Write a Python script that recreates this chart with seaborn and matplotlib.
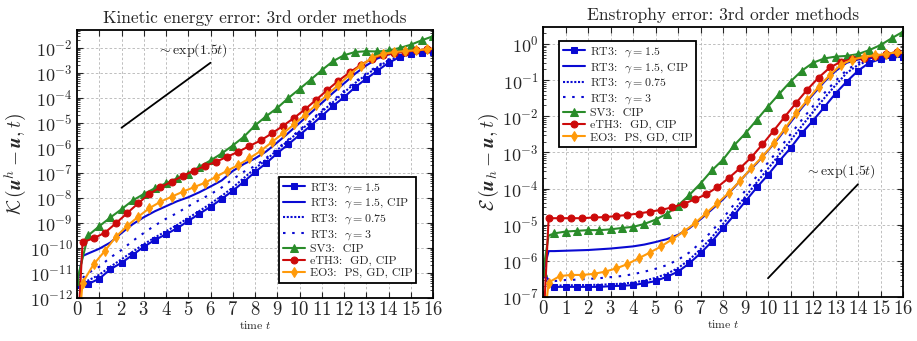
import numpy as np
import pandas as pd
import matplotlib
matplotlib.use("Agg")
import matplotlib.pyplot as plt
import seaborn as sns
from matplotlib.ticker import LogLocator, LogFormatterMathtext, MultipleLocator, NullFormatter

# ---------------- data (log10 of the error values) ----------------
t_half = [i * 0.5 for i in range(33)]                       # 0, 0.5, ..., 16
t_off = [0.0] + [0.25 + i * 0.5 for i in range(32)] + [16.0]  # 0, 0.25, 0.75, ..., 15.75, 16
t_cip = [0.0, 0.25] + [i * 0.5 for i in range(1, 33)]       # 0, 0.25, 0.5, 1, ..., 16

# Kinetic energy error (left)
K_rt3 = [-11.48, -11.44, -11.23, -10.85, -10.59, -10.28, -9.95, -9.68, -9.45, -9.21, -8.92,
         -8.63, -8.35, -8.04, -7.71, -7.35, -6.96, -6.61, -6.21, -5.85, -5.48, -5.11, -4.72,
         -4.32, -3.97, -3.57, -3.23, -2.91, -2.59, -2.37, -2.25, -2.19, -2.17]
K_rt3_cip = [-11.48, -10.32, -10.22, -10.03, -9.78, -9.4, -9.05, -8.77, -8.53, -8.33, -8.13,
             -7.97, -7.77, -7.54, -7.3, -6.92, -6.64, -6.42, -6.14, -5.78, -5.4, -5.0, -4.6,
             -4.2, -3.8, -3.42, -3.03, -2.7, -2.42, -2.26, -2.17, -2.13, -2.1, -2.08]
K_rt3_g075 = [-11.48, -11.35, -11.3, -11.07, -10.75, -10.45, -10.15, -9.85, -9.58, -9.33, -9.08,
              -8.8, -8.52, -8.23, -7.92, -7.58, -7.2, -6.82, -6.47, -6.08, -5.7, -5.33, -4.95,
              -4.55, -4.17, -3.78, -3.4, -3.07, -2.77, -2.5, -2.32, -2.23, -2.19, -2.16]
K_rt3_g3 = [-11.48, -11.2, -11.0, -10.75, -10.38, -10.08, -9.72, -9.4, -9.1, -8.83, -8.6,
            -8.33, -8.08, -7.85, -7.58, -7.25, -6.95, -6.72, -6.4, -6.03, -5.66, -5.28, -4.9,
            -4.5, -4.1, -3.72, -3.35, -3.02, -2.72, -2.45, -2.3, -2.22, -2.18, -2.15]
K_sv3 = [-11.32, -9.5, -9.13, -8.78, -8.45, -8.1, -7.84, -7.61, -7.41, -7.21, -7.04, -6.75,
         -6.5, -6.22, -5.9, -5.55, -5.1, -4.73, -4.4, -4.0, -3.64, -3.27, -2.89, -2.53, -2.29,
         -2.16, -2.13, -2.14, -2.1, -2.0, -1.87, -1.69, -1.53]
K_eth3 = [-14.0, -9.77, -9.61, -9.39, -9.01, -8.61, -8.21, -7.84, -7.57, -7.35, -7.12, -6.91,
          -6.72, -6.55, -6.35, -6.15, -5.92, -5.7, -5.42, -5.12, -4.8, -4.45, -4.07, -3.68,
          -3.31, -2.98, -2.68, -2.43, -2.28, -2.2, -2.15, -2.1, -2.05, -2.02]
K_eo3 = [-14.0, -11.39, -10.65, -10.12, -9.55, -9.12, -8.75, -8.41, -8.15, -7.95, -7.75, -7.57,
         -7.39, -7.15, -6.91, -6.68, -6.41, -6.12, -5.77, -5.42, -5.06, -4.67, -4.27, -3.87,
         -3.47, -3.07, -2.7, -2.4, -2.24, -2.16, -2.12, -2.09, -2.05, -2.03]

# Enstrophy error (right)
E_rt3 = [-6.33, -6.72, -6.72, -6.72, -6.72, -6.72, -6.70, -6.69, -6.67, -6.62, -6.56, -6.44,
         -6.30, -6.07, -5.79, -5.47, -5.10, -4.73, -4.35, -3.97, -3.62, -3.24, -2.88, -2.47,
         -2.12, -1.75, -1.37, -1.04, -0.74, -0.52, -0.42, -0.37, -0.35]
E_rt3_cip = [-6.33, -5.73, -5.73, -5.72, -5.71, -5.7, -5.68, -5.66, -5.63, -5.6, -5.55, -5.48,
             -5.4, -5.28, -5.1, -4.85, -4.58, -4.3, -3.97, -3.62, -3.3, -2.95, -2.58, -2.17,
             -1.77, -1.4, -1.05, -0.75, -0.52, -0.43, -0.39, -0.37, -0.36, -0.35]
E_rt3_g075 = [-6.33, -6.72, -6.68, -6.68, -6.67, -6.67, -6.66, -6.65, -6.63, -6.6, -6.55, -6.47,
              -6.36, -6.2, -5.97, -5.68, -5.35, -4.98, -4.6, -4.22, -3.83, -3.45, -3.06, -2.67,
              -2.27, -1.88, -1.5, -1.14, -0.8, -0.58, -0.45, -0.4, -0.37, -0.35]
E_rt3_g3 = [-6.33, -6.62, -6.56, -6.53, -6.52, -6.5, -6.48, -6.45, -6.42, -6.37, -6.3, -6.22,
            -6.12, -5.97, -5.77, -5.5, -5.18, -4.82, -4.43, -4.05, -3.66, -3.28, -2.9, -2.5,
            -2.1, -1.72, -1.36, -1.02, -0.72, -0.52, -0.43, -0.39, -0.37, -0.35]
E_sv3 = [-6.3, -5.3, -5.24, -5.19, -5.17, -5.15, -5.15, -5.13, -5.09, -5.06, -4.98, -4.86, -4.7,
         -4.47, -4.18, -3.86, -3.5, -3.2, -2.8, -2.47, -2.1, -1.73, -1.38, -1.04, -0.74, -0.52,
         -0.4, -0.35, -0.33, -0.28, -0.17, -0.03, 0.16, 0.34]
E_eth3 = [-8.0, -4.82, -4.82, -4.82, -4.82, -4.8, -4.79, -4.76, -4.73, -4.69, -4.64, -4.59,
          -4.52, -4.42, -4.3, -4.16, -3.96, -3.71, -3.44, -3.14, -2.78, -2.4, -2.01, -1.63,
          -1.26, -0.93, -0.65, -0.49, -0.42, -0.38, -0.33, -0.29, -0.21, -0.26]
E_eo3 = [-8.0, -6.6, -6.42, -6.39, -6.39, -6.36, -6.3, -6.21, -6.09, -5.93, -5.77, -5.6, -5.4,
         -5.19, -4.96, -4.68, -4.41, -4.12, -3.79, -3.44, -3.12, -2.75, -2.34, -1.92, -1.55,
         -1.18, -0.86, -0.57, -0.43, -0.36, -0.31, -0.28, -0.22, -0.25]

labels = [r"RT3:  $\gamma = 1.5$", r"RT3:  $\gamma = 1.5$, CIP", r"RT3:  $\gamma = 0.75$",
          r"RT3:  $\gamma = 3$", "SV3:  CIP", "eTH3:  GD, CIP", "EO3:  PS, GD, CIP"]

# reference slope lines  ~ exp(1.5 t)
ref_left_t = [2.0, 6.0]
ref_left_logy = [-5.19, -2.59]
ref_right_t = [10.0, 14.0]
ref_right_logy = [-6.48, -3.88]

# ---------------- style ----------------
sns.set_style("ticks")
plt.rcParams.update({
    "font.family": ["cmr10", "DejaVu Serif"],
    "mathtext.fontset": "cm",
    "axes.formatter.use_mathtext": True,
    "axes.unicode_minus": False,
    "axes.linewidth": 1.3,
    "axes.edgecolor": "black",
})

BLUE = "#0a0ad2"
GREEN = "#2a8c2a"
RED = "#cc0a0a"
ORANGE = "#ff9a0a"

fig = plt.figure(figsize=(9.17, 3.41), dpi=100)
axL = fig.add_axes([77 / 917, 1 - 298 / 341, (433 - 77) / 917, (298 - 30) / 341])
axR = fig.add_axes([543 / 917, 1 - 297 / 341, (903 - 543) / 917, (297 - 27) / 341])


def draw(ax, rt3, cip, g075, g3, sv3, eth3, eo3):
    series = [
        (t_half, rt3, dict(color=BLUE, marker="s", markersize=5.0)),
        (t_cip, cip, dict(color=BLUE)),
        (t_cip, g075, dict(color=BLUE, linestyle=(0, (1.0, 0.8)))),
        (t_cip, g3, dict(color=BLUE, linestyle=(0, (1.2, 3.2)))),
        (t_cip if len(sv3) == len(t_cip) else t_half, sv3,
         dict(color=GREEN, marker="^", markersize=5.5,
              markevery=([0] + list(range(2, len(sv3)))) if len(sv3) == len(t_cip) else None)),
        (t_off, eth3, dict(color=RED, marker="o", markersize=5.0,
                           markevery=list(range(1, len(t_off) - 1)))),
        (t_off, eo3, dict(color=ORANGE, marker="d", markersize=5.5,
                          markevery=list(range(1, len(t_off) - 1)))),
    ]
    for (tt, vals, kw), lab in zip(series, labels):
        df = pd.DataFrame({"t": tt, "v": [10.0 ** v for v in vals]})
        me = kw.pop("markevery", None)
        extra = {}
        if me is not None:
            extra["markevery"] = me
        sns.lineplot(data=df, x="t", y="v", ax=ax, label=lab, lw=1.5, sort=False,
                     markeredgecolor=kw["color"], estimator=None, **kw, **extra)


draw(axL, K_rt3, K_rt3_cip, K_rt3_g075, K_rt3_g3, K_sv3, K_eth3, K_eo3)
draw(axR, E_rt3, E_rt3_cip, E_rt3_g075, E_rt3_g3, E_sv3, E_eth3, E_eo3)

# reference lines
sns.lineplot(x=ref_left_t, y=[10.0 ** v for v in ref_left_logy], ax=axL, color="black", lw=1.3,
             legend=False)
sns.lineplot(x=ref_right_t, y=[10.0 ** v for v in ref_right_logy], ax=axR, color="black", lw=1.3,
             legend=False)
axL.text(5.2, 10 ** -2.08, r"$\sim \exp(1.5t)$", ha="center", va="center", fontsize=10)
axR.text(13.2, 10 ** -3.53, r"$\sim \exp(1.5t)$", ha="center", va="center", fontsize=10)

for ax, ylim, title, ylabel in [
    (axL, (1e-12, 10 ** -1.28), "Kinetic energy error: 3rd order methods",
     r"$\mathcal{K}\,(\boldsymbol{u}^h - \boldsymbol{u}, t)$"),
    (axR, (1e-7, 10 ** 0.47), "Enstrophy error: 3rd order methods",
     r"$\mathcal{E}\,(\boldsymbol{u}_h - \boldsymbol{u}, t)$"),
]:
    ax.set_yscale("log")
    ax.set_xlim(0, 16)
    ax.set_ylim(*ylim)
    ax.xaxis.set_major_locator(MultipleLocator(1))
    ax.yaxis.set_major_locator(LogLocator(base=10, numticks=30))
    ax.yaxis.set_minor_locator(LogLocator(base=10, subs=np.arange(2, 10), numticks=30))
    ax.yaxis.set_major_formatter(LogFormatterMathtext())
    ax.yaxis.set_minor_formatter(NullFormatter())
    ax.tick_params(which="both", direction="in", top=True, right=True, pad=3)
    ax.tick_params(axis="y", labelsize=13)
    ax.tick_params(axis="x", labelsize=13.5, pad=2)
    ax.tick_params(which="major", length=4, width=0.8)
    ax.tick_params(which="minor", length=2, width=0.6)
    ax.grid(True, which="major", color="#b4b4b4", linestyle=(0, (3, 2.5)), lw=0.6)
    ax.set_title(title, fontsize=12.5, pad=5)
    ax.set_xlabel(r"time $t$", fontsize=8.5, labelpad=0)
    ax.set_ylabel(ylabel, fontsize=14, labelpad=1)
    for s in ax.spines.values():
        s.set_linewidth(1.3)

legL = axL.legend(loc="lower right", fontsize=8.6, frameon=True, fancybox=False,
                  edgecolor="black", framealpha=1, handlelength=1.8, handletextpad=0.4,
                  labelspacing=0.15, borderpad=0.35, bbox_to_anchor=(0.97, 0.035))
legR = axR.legend(loc="upper left", fontsize=8.6, frameon=True, fancybox=False,
                  edgecolor="black", framealpha=1, handlelength=1.8, handletextpad=0.4,
                  labelspacing=0.15, borderpad=0.35, bbox_to_anchor=(0.028, 0.97))
for leg in (legL, legR):
    leg.get_frame().set_linewidth(1.3)

fig.savefig("out.png", dpi=100)
